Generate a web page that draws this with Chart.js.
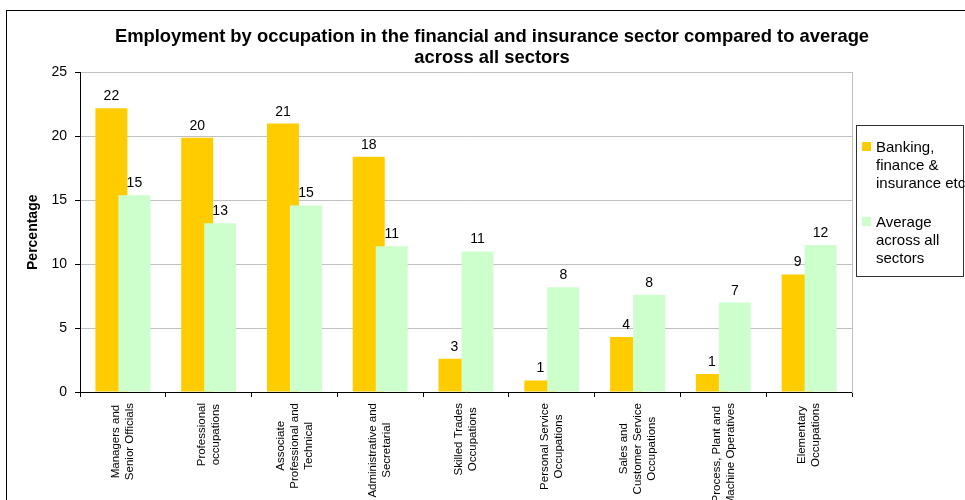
<!DOCTYPE html>
<html>
<head>
<meta charset="utf-8">
<script src="https://cdn.jsdelivr.net/npm/chart.js@4.4.1/dist/chart.umd.min.js"></script>
<style>
  html, body { margin: 0; padding: 0; background: #fff; overflow: hidden; }
  #frame { position: absolute; left: 6px; top: 10px; width: 970px; height: 500px; border: 1px solid #000; }
  canvas { display: block; }
</style>
</head>
<body>
<div id="frame"><canvas id="myChart" width="970" height="489"></canvas></div>
<script>
(() => {
  'use strict'

  const occupations = [
    ['Managers and', 'Senior Officials'],
    ['Professional', 'occupations'],
    ['Associate', 'Professional and', 'Technical'],
    ['Administrative and', 'Secretarial'],
    ['Skilled Trades', 'Occupations'],
    ['Personal Service', 'Occupations'],
    ['Sales and', 'Customer Service', 'Occupations'],
    ['Process, Plant and', 'Machine Operatives'],
    ['Elementary', 'Occupations']
  ]
  const financeShare = [22.2, 19.9, 21.0, 18.4, 2.6, 0.9, 4.3, 1.4, 9.2]
  const allSectorsShare = [15.4, 13.2, 14.6, 11.4, 11.0, 8.2, 7.6, 7.0, 11.5]
  const seriesNames = [
    ['Banking,', 'finance &', 'insurance etc'],
    ['Average', 'across all', 'sectors']
  ]
  const seriesColors = ['#ffcc00', '#ccffcc']
  const yTicks = [0, 5, 10, 15, 20, 25]

  const FONT = '"Liberation Sans", Arial, sans-serif'

  const decorations = {
    id: 'decorations',
    beforeDatasetsDraw(chart) {
      // paint series in index order so the green bars sit over the orange ones
      chart.getSortedVisibleDatasetMetas().forEach(meta => meta.controller.draw())
      return false
    },
    afterDraw(chart) {
      const { ctx, chartArea, scales: { x } } = chart
      ctx.save()

      // value labels above the bars
      ctx.fillStyle = '#000'
      ctx.font = '14px ' + FONT
      ctx.textAlign = 'center'
      ctx.textBaseline = 'alphabetic'
      chart.data.datasets.forEach((ds, i) => {
        chart.getDatasetMeta(i).data.forEach((bar, j) => {
          ctx.fillText(String(Math.round(ds.data[j])), bar.x, bar.y - 8)
        })
      })

      // vertical category labels, lines centred on each other
      ctx.font = '11.5px ' + FONT
      occupations.forEach((lines, i) => {
        const cx = x.getPixelForValue(i)
        const widest = Math.max(...lines.map(t => ctx.measureText(t).width))
        ctx.save()
        ctx.translate(cx, chartArea.bottom + 11)
        ctx.rotate(-Math.PI / 2)
        ctx.textAlign = 'center'
        ctx.textBaseline = 'middle'
        lines.forEach((t, k) => {
          ctx.fillText(t, -widest / 2, (k - (lines.length - 1) / 2) * 14)
        })
        ctx.restore()
      })

      // legend box
      ctx.strokeStyle = '#333'
      ctx.lineWidth = 1
      ctx.strokeRect(849.5, 114.5, 107, 151)
      ctx.font = '15px ' + FONT
      ctx.textAlign = 'left'
      ctx.textBaseline = 'alphabetic'
      const firstBaselines = [141, 216]
      seriesNames.forEach((lines, i) => {
        const y0 = firstBaselines[i]
        ctx.fillStyle = seriesColors[i]
        ctx.fillRect(855, y0 - 10, 9, 9)
        ctx.fillStyle = '#000'
        lines.forEach((t, k) => ctx.fillText(t, 869, y0 + k * 18))
      })

      ctx.restore()
    }
  }

  const ctx = document.getElementById('myChart')
  const myChart = new Chart(ctx, {
    type: 'bar',
    data: {
      labels: occupations.map(l => l.join(' ')),
      datasets: [{
        label: seriesNames[0].join(' '),
        data: financeShare,
        backgroundColor: seriesColors[0],
        categoryPercentage: 0.536,
        barPercentage: 1.39
      }, {
        label: seriesNames[1].join(' '),
        data: allSectorsShare,
        backgroundColor: seriesColors[1],
        categoryPercentage: 0.536,
        barPercentage: 1.39
      }]
    },
    options: {
      responsive: false,
      animation: false,
      layout: { padding: 0 },
      plugins: {
        legend: { display: false },
        tooltip: { enabled: false },
        title: {
          display: true,
          text: [
            'Employment by occupation in the financial and insurance sector compared to average',
            'across all sectors'
          ],
          color: '#000',
          font: { family: FONT, size: 18.4, weight: 'bold', lineHeight: 21 / 18.4 },
          padding: { top: 15.5, bottom: 4 }
        }
      },
      scales: {
        x: {
          ticks: { display: false },
          grid: {
            offset: true,
            drawOnChartArea: false,
            drawTicks: true,
            tickLength: 5,
            tickColor: '#000'
          },
          border: { color: '#000' },
          afterFit(scale) { scale.height = 108 }
        },
        y: {
          min: 0,
          max: 25,
          afterBuildTicks(scale) { scale.ticks = yTicks.map(v => ({ value: v })) },
          ticks: { color: '#000', padding: 8, font: { family: FONT, size: 14 } },
          grid: { color: '#c0c0c0', tickLength: 5, tickColor: '#000' },
          border: { color: '#000' },
          title: {
            display: true,
            text: 'Percentage',
            color: '#000',
            font: { family: FONT, size: 14, weight: 'bold' },
            padding: { top: 17.6, bottom: 0 }
          },
          afterFit(scale) { scale.width = 73 }
        },
        // empty right-hand axis: leaves room for the legend and draws the plot's right edge
        yRight: {
          position: 'right',
          min: 0,
          max: 25,
          ticks: { display: false },
          grid: { drawOnChartArea: false, drawTicks: false },
          border: { color: '#c0c0c0' },
          afterFit(scale) { scale.width = 125 }
        }
      }
    },
    plugins: [decorations]
  })
})()
</script>
</body>
</html>
